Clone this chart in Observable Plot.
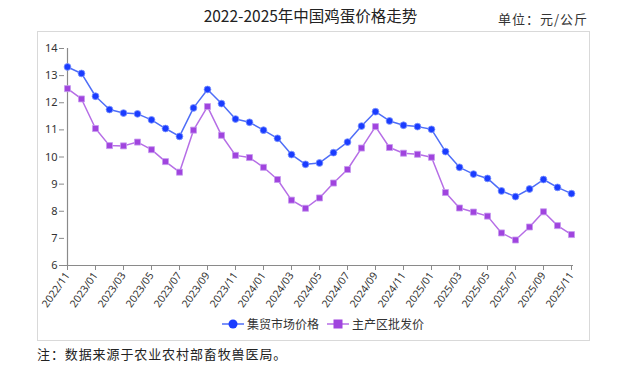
<!DOCTYPE html>
<html><head><meta charset="utf-8">
<script src="https://cdn.jsdelivr.net/npm/d3@7"></script>
<script src="https://cdn.jsdelivr.net/npm/@observablehq/plot@0.6"></script>
<style>
body{margin:0;background:#fff;width:621px;height:371px;position:relative;overflow:hidden;font-family:"Noto Sans CJK SC","Noto Sans",sans-serif;}
#title{position:absolute;left:0;width:621px;top:4px;text-align:center;font-size:15.5px;color:#222;}
#unit{position:absolute;right:33px;top:9px;font-size:13px;color:#333;letter-spacing:1px;}
#frame{position:absolute;left:37px;top:31px;width:551px;height:308px;border:1px solid #d9d9d9;}
#chart{position:absolute;left:0;top:0;}
#legend{position:absolute;top:315px;left:222px;font-size:12px;color:#333;display:flex;align-items:center;white-space:nowrap;}
#legend span{display:inline-flex;align-items:center;}
#caption{position:absolute;left:37px;top:344px;font-size:13px;color:#222;letter-spacing:0.9px;}
</style></head>
<body>
<div id="title">2022-2025年中国鸡蛋价格走势</div>
<div id="unit">单位：元/公斤</div>
<div id="frame"></div>
<div id="chart"></div>
<div id="legend"></div>
<div id="caption">注：数据来源于农业农村部畜牧兽医局。</div>
<script>
const months = ["2022/11","2022/12","2023/01","2023/02","2023/03","2023/04","2023/05","2023/06","2023/07","2023/08","2023/09","2023/10","2023/11","2023/12","2024/01","2024/02","2024/03","2024/04","2024/05","2024/06","2024/07","2024/08","2024/09","2024/10","2024/11","2024/12","2025/01","2025/02","2025/03","2025/04","2025/05","2025/06","2025/07","2025/08","2025/09","2025/10","2025/11"];
const marketPrice = [13.32,13.08,12.24,11.75,11.62,11.59,11.37,11.05,10.76,11.81,12.49,11.97,11.40,11.28,10.99,10.69,10.09,9.73,9.78,10.16,10.55,11.14,11.67,11.33,11.17,11.12,11.02,10.20,9.62,9.37,9.21,8.75,8.54,8.82,9.17,8.88,8.65];
const wholesalePrice = [12.52,12.14,11.05,10.42,10.41,10.55,10.27,9.83,9.44,10.99,11.86,10.80,10.06,9.98,9.62,9.17,8.41,8.11,8.49,9.04,9.54,10.33,11.12,10.35,10.14,10.10,9.99,8.69,8.12,7.97,7.82,7.20,6.94,7.42,7.98,7.47,7.14];
const seriesNames = ["集贸市场价格","主产区批发价"];
const yTicks = [6,7,8,9,10,11,12,13,14];

const blueLine="#4f6ef7", blueDot="#1a3cff", purpleLine="#b66ee6", purpleDot="#a044de";
const mk = months.map((m,i)=>({m, v:marketPrice[i]}));
const wh = months.map((m,i)=>({m, v:wholesalePrice[i]}));
const xTicks = months.filter((m,i)=>i%2===0);

const plot = Plot.plot({
  width:621, height:340,
  marginTop:48, marginBottom:75, marginLeft:64, marginRight:48,
  style:{fontFamily:"'Noto Sans','Liberation Sans',sans-serif", fontSize:"11px", color:"#333", background:"transparent"},
  x:{type:"point", domain:months, padding:0},
  y:{domain:[6,14]},
  marks:[
    Plot.ruleX([months[0]],{stroke:"#8a8a8a",strokeWidth:1.2}),
    Plot.ruleY([6],{stroke:"#8a8a8a",strokeWidth:1.2}),
    Plot.axisY({ticks:yTicks, tickSize:5, tickPadding:2, label:null, stroke:"#8a8a8a", fill:"#333"}),
    Plot.axisX({ticks:xTicks, tickSize:5, tickPadding:3, tickRotate:-55, label:null, stroke:"#8a8a8a", fill:"#333", fontSize:10.5}),
    Plot.line(wh,{x:"m",y:"v",stroke:purpleLine,strokeWidth:1.5}),
    Plot.dot(wh,{x:"m",y:"v",symbol:"square",r:3.4,fill:purpleDot,stroke:"#c79af0",strokeWidth:0.8}),
    Plot.line(mk,{x:"m",y:"v",stroke:blueLine,strokeWidth:1.5}),
    Plot.dot(mk,{x:"m",y:"v",r:3.4,fill:blueDot,stroke:"#7f95ff",strokeWidth:0.8})
  ]
});
document.getElementById("chart").appendChild(plot);

const lg = document.getElementById("legend");
lg.innerHTML =
 `<span><svg width="22" height="12"><line x1="0" y1="6" x2="22" y2="6" stroke="${blueLine}" stroke-width="1.5"/><circle cx="11" cy="6" r="4.5" fill="${blueDot}"/></svg><span style="margin-left:3px">${seriesNames[0]}</span></span>`+
 `<span style="margin-left:8px"><svg width="22" height="12"><line x1="0" y1="6" x2="22" y2="6" stroke="${purpleLine}" stroke-width="1.5"/><rect x="6.5" y="1.5" width="9" height="9" fill="${purpleDot}"/></svg><span style="margin-left:3px">${seriesNames[1]}</span></span>`;
</script>
</body></html>
